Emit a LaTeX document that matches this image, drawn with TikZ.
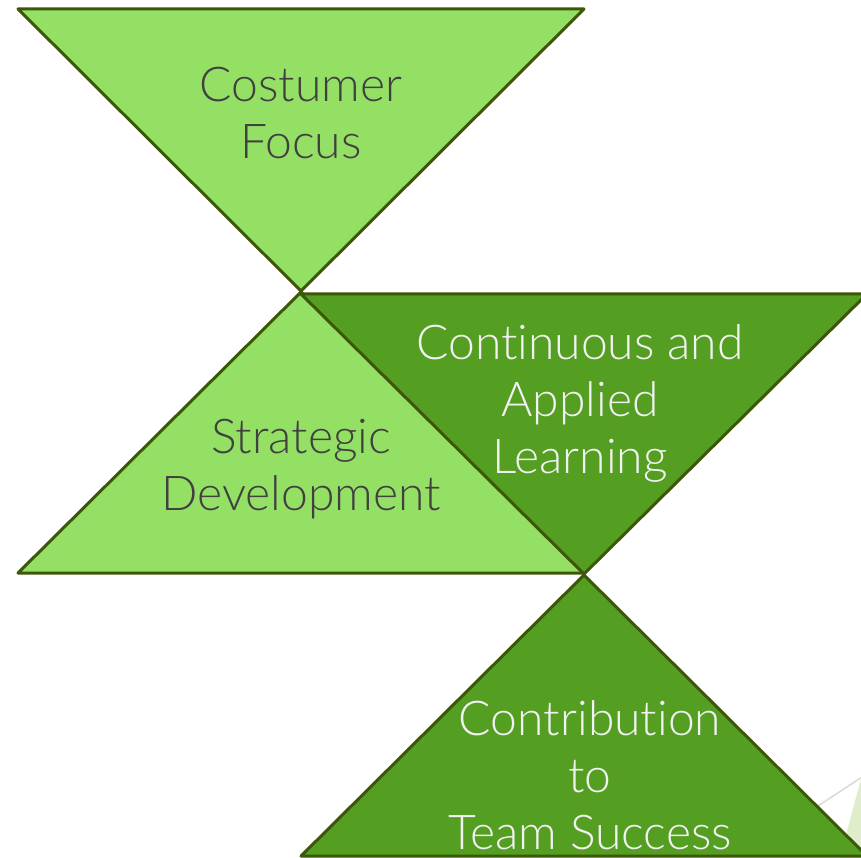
\documentclass[tikz,border=0pt]{standalone}
\usepackage{fontspec}
\setmainfont{Lato}[UprightFont={* Light},Ligatures={NoCommon,NoRare}]
\usepackage{xcolor}
\definecolor{lightleaf}{HTML}{94E064}
\definecolor{darkleaf}{HTML}{549F22}
\definecolor{edgeleaf}{HTML}{3D570A}
\definecolor{paleleaf}{HTML}{E0EDCB}
\definecolor{greytext}{HTML}{404040}
\definecolor{lighttext}{HTML}{F2F2F2}
\begin{document}
\begin{tikzpicture}[x=1pt,y=-1pt,
  darktext/.style={text=greytext,align=center,font=\fontsize{48}{57}\selectfont},
  whitetext/.style={text=lighttext,align=center,font=\fontsize{48}{57}\selectfont}]
\useasboundingbox (0,0) rectangle (861,858);
\filldraw[paleleaf] (862,776) -- (840,858) -- (862,858) -- cycle;
\draw[gray!30,line width=1.5pt] (818,806) -- (862,777);
\filldraw[fill=lightleaf,draw=edgeleaf,line width=3pt,line join=round] (18,9) -- (584,9) -- (301,291) -- cycle;
\filldraw[fill=lightleaf,draw=edgeleaf,line width=3pt,line join=round] (301,292) -- (584,573) -- (18,573) -- cycle;
\filldraw[fill=darkleaf,draw=edgeleaf,line width=3pt,line join=round] (301,294) -- (867,294) -- (584,574) -- cycle;
\filldraw[fill=darkleaf,draw=edgeleaf,line width=3pt,line join=round] (584,575) -- (867,856) -- (301,856) -- cycle;
\node[darktext] (focus) at (301,113) {Costumer\\Focus};
\node[darktext] (strategy) at (301,469) {Strategic\\Development};
\node[whitetext] (learning) at (580,403) {Continuous and\\Applied\\Learning};
\node[whitetext] (team) at (590,775) {Contribution\\to\\Team Success};
\end{tikzpicture}
\end{document}
